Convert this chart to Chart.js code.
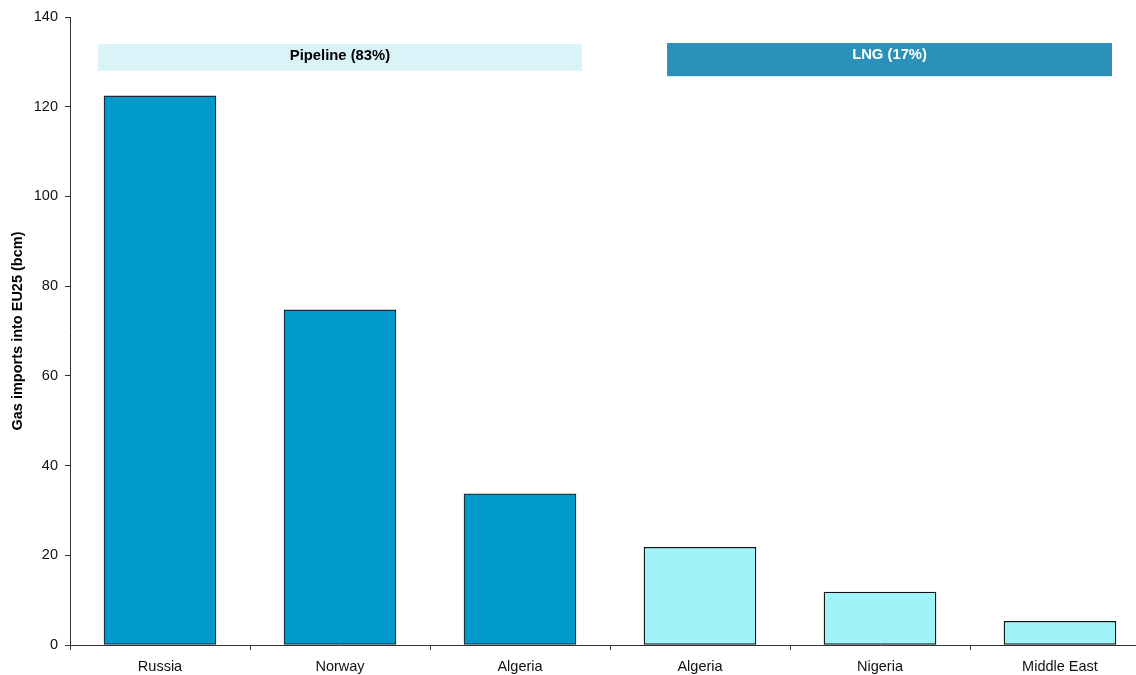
<!DOCTYPE html>
<html>
<head>
<meta charset="utf-8">
<script src="https://cdn.jsdelivr.net/npm/chart.js@4/dist/chart.umd.min.js"></script>
<style>
  html, body { margin: 0; padding: 0; background: #fff; }
  #wrap { width: 1136px; height: 675px; overflow: hidden; position: relative; }
  canvas { display: block; }
</style>
</head>
<body>
<div id="wrap"><canvas id="c" width="1160" height="675"></canvas></div>
<script>
const categories = ['Russia', 'Norway', 'Algeria', 'Algeria', 'Nigeria', 'Middle East'];
const imports = [122.4, 74.7, 33.7, 21.8, 11.8, 5.3];
const routeType = ['Pipeline', 'Pipeline', 'Pipeline', 'LNG', 'LNG', 'LNG'];
const yTicks = [0, 20, 40, 60, 80, 100, 120, 140];
const bannerLabels = ['Pipeline (83%)', 'LNG (17%)'];

const FONT = '"Liberation Sans", Arial, sans-serif';
const fillFor = { Pipeline: '#0099cc', LNG: '#a0f3f9' };
const borderFor = { Pipeline: '#1c2a33', LNG: '#111111' };

const banners = [
  { text: bannerLabels[0], x0: -0.344, x1: 2.344, y0: 134.0, y1: 128.0, fill: '#d9f3f8', color: '#000000', ty: 131.4 },
  { text: bannerLabels[1], x0: 2.817, x1: 5.289, y0: 134.2, y1: 126.8, fill: '#2b91bb', color: '#ffffff', ty: 131.5 }
];

const bannerPlugin = {
  id: 'banners',
  afterDatasetsDraw(chart) {
    const { ctx, scales: { x, y } } = chart;
    ctx.save();
    banners.forEach(b => {
      const left = x.getPixelForValue(b.x0);
      const right = x.getPixelForValue(b.x1);
      const top = y.getPixelForValue(b.y0);
      const bottom = y.getPixelForValue(b.y1);
      ctx.fillStyle = b.fill;
      ctx.fillRect(left, top, right - left, bottom - top);
      ctx.fillStyle = b.color;
      ctx.font = 'bold 14.8px ' + FONT;
      ctx.textAlign = 'center';
      ctx.textBaseline = 'middle';
      ctx.fillText(b.text, (left + right) / 2, y.getPixelForValue(b.ty));
    });
    ctx.restore();
  }
};

new Chart(document.getElementById('c'), {
  type: 'bar',
  data: {
    labels: categories,
    datasets: [{
      data: imports,
      backgroundColor: routeType.map(t => fillFor[t]),
      borderColor: routeType.map(t => borderFor[t]),
      borderWidth: 1.3,
      borderSkipped: false,
      barThickness: 112
    }]
  },
  options: {
    responsive: false,
    animation: false,
    devicePixelRatio: 1,
    layout: { padding: { left: 0, right: 10, top: 17, bottom: 0 } },
    plugins: { legend: { display: false }, tooltip: { enabled: false } },
    scales: {
      x: {
        grid: { display: true, drawOnChartArea: false, drawTicks: true, tickLength: 5, color: '#333333', offset: true },
        border: { display: true, color: '#333333', width: 1 },
        ticks: { font: { family: FONT, size: 14.5 }, color: '#111111', padding: 8, maxRotation: 0 },
        afterFit(scale) { scale.height = 30; }
      },
      y: {
        min: 0, max: 140,
        afterBuildTicks(scale) { scale.ticks = yTicks.map(v => ({ value: v })); },
        grid: { display: true, drawOnChartArea: false, drawTicks: true, tickLength: 5, color: '#333333' },
        border: { display: true, color: '#333333', width: 1 },
        ticks: { font: { family: FONT, size: 14.5 }, color: '#111111', padding: 7 },
        title: { display: true, text: 'Gas imports into EU25 (bcm)', font: { family: FONT, size: 14.5, weight: 'bold' }, color: '#000000', padding: { top: 9, bottom: 0 } },
        afterFit(scale) { scale.width = 70; }
      }
    }
  },
  plugins: [bannerPlugin]
});
</script>
</body>
</html>
